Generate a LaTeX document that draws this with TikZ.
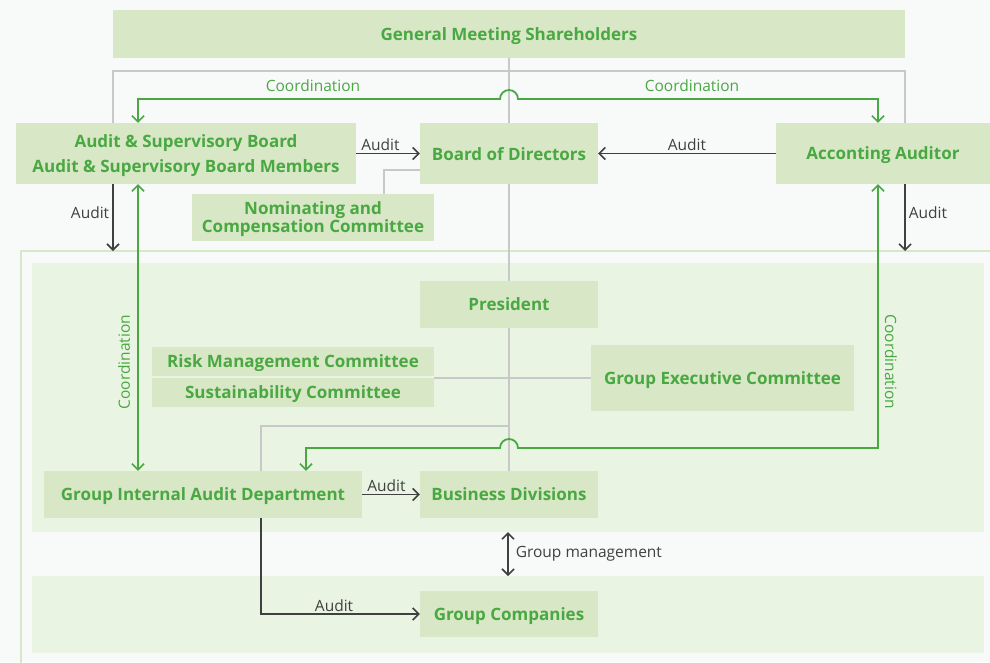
\documentclass[tikz,border=0pt]{standalone}
\usepackage{fontspec}
\setmainfont{Open Sans}
\usetikzlibrary{arrows.meta}
\definecolor{bgc}{HTML}{F8FAFA}
\definecolor{boxc}{HTML}{D8E7C5}
\definecolor{bandc}{HTML}{E9F4E3}
\definecolor{framec}{HTML}{D5E8C8}
\definecolor{grn}{HTML}{4AA843}
\definecolor{gline}{HTML}{C8C8C8}
\definecolor{dk}{HTML}{404040}
\tikzset{
  orgbox/.style={fill=boxc, text=grn, font=\fontsize{17}{24.5}\selectfont\bfseries, inner sep=0pt, align=center, anchor=center, text depth=0pt},
  grayline/.style={draw=gline, line width=2pt},
  greenline/.style={draw=grn, line width=1.8pt, line join=miter},
  dkarrow/.style={draw=dk, line width=1.6pt, -{Straight Barb[length=6pt,width=12pt,line width=1.6pt]}},
  dkdouble/.style={draw=dk, line width=1.6pt, {Straight Barb[length=6pt,width=12pt,line width=1.6pt]}-{Straight Barb[length=6pt,width=12pt,line width=1.6pt]}},
  grnboth/.style={greenline, {Straight Barb[length=6pt,width=12pt,line width=1.6pt]}-{Straight Barb[length=6pt,width=12pt,line width=1.6pt]}},
  lbl/.style={text=dk, font=\fontsize{15.5}{18}\selectfont, inner sep=1pt},
  glbl/.style={text=grn, font=\fontsize{15.5}{18}\selectfont, inner sep=1pt},
}
\begin{document}
\begin{tikzpicture}[x=1pt,y=1pt]
\useasboundingbox (0,0) rectangle (990,-662);
\fill[bgc] (0,0) rectangle (990,-662);
% frame and bands
\draw[framec, line width=2pt] (995,-251) -- (21,-251) -- (21,-667);
\fill[bandc] (32,-263) rectangle (984,-532);
\fill[bandc] (32,-576) rectangle (984,-653);

% nodes
\node[orgbox, minimum width=792, minimum height=48] (gms) at (509,-34) {General Meeting Shareholders};

% gray lines (behind boxes)
\coordinate (gtl) at (113,-71);
\coordinate (gtr) at (905,-71);
\draw[grayline] (gms.south) -- (509,-471);
\draw[grayline] (113,-123) -- (gtl) -- (gtr) -- (905,-123);

\node[orgbox, minimum width=340, minimum height=61] (asb) at (186,-153.5) {Audit \& Supervisory Board\\Audit \& Supervisory Board Members};
\node[orgbox, minimum width=178, minimum height=61] (bod) at (509,-153.5) {Board of Directors};
\node[orgbox, minimum width=214, minimum height=61] (aa) at (883,-153.5) {Acconting Auditor};
\node[orgbox, minimum width=242, minimum height=47, font=\fontsize{17}{18}\selectfont\bfseries] (ncc) at (313,-217.5) {Nominating and\\Compensation Committee};
\node[orgbox, minimum width=178, minimum height=47] (pres) at (509,-304.5) {President};
\node[orgbox, minimum width=282, minimum height=29] (rmc) at (293,-361.5) {Risk Management Committee};
\node[orgbox, minimum width=282, minimum height=29] (sc) at (293,-392.5) {Sustainability Committee};
\node[orgbox, minimum width=263, minimum height=66] (gec) at (722.5,-378) {Group Executive Committee};
\node[orgbox, minimum width=318, minimum height=47] (giad) at (203,-494.5) {Group Internal Audit Department};
\node[orgbox, minimum width=178, minimum height=47] (bd) at (509,-494.5) {Business Divisions};
\node[orgbox, minimum width=178, minimum height=46] (gc) at (509,-614) {Group Companies};

% gray connectors
\draw[grayline] (ncc.north -| 384,0) |- (bod.west |- 0,-170);
\draw[grayline] (rmc.east |- 0,-378) -- (gec.west |- 0,-378);
\coordinate (gj) at (509,-426);
\draw[grayline] (gj) -| (giad.north -| 261,0);

% green coordination lines
\draw[grnboth] (asb.north -| 138,0) -- (138,-99) -- (500,-99) arc (180:0:9) -- (878,-99) -- (aa.north -| 878,0);
\node[glbl] at (313,-86) {Coordination};
\node[glbl] at (692,-86) {Coordination};
\draw[grnboth] (asb.south -| 138,0) -- (giad.north -| 138,0);
\node[glbl, rotate=90] at (124,-362) {Coordination};
\draw[grnboth] (aa.south -| 878,0) -- (878,-448) -- (518,-448) arc (0:180:9) -- (306,-448) -- (giad.north -| 306,0);
\node[glbl, rotate=-90] at (891,-362) {Coordination};

% audit arrows
\draw[dkarrow] (asb.east) -- node[lbl, above, pos=0.38, yshift=1pt] {Audit} (bod.west);
\draw[dkarrow] (aa.west) -- node[lbl, above, yshift=1pt] {Audit} (bod.west -| bod.east);
\coordinate (asbaudit) at (113,-251);
\draw[dkarrow] (asb.south -| asbaudit) -- node[lbl, left, pos=0.42, xshift=-2pt] {Audit} (asbaudit);
\coordinate (aaaudit) at (905,-251);
\draw[dkarrow] (aa.south -| aaaudit) -- node[lbl, right, pos=0.42, xshift=2pt] {Audit} (aaaudit);
\draw[dkarrow] (giad.east) -- node[lbl, above, pos=0.42, yshift=1pt] {Audit} (bd.west);
\draw[dkarrow] (giad.south -| 261,0) |- node[lbl, above, pos=0.73, yshift=1pt] {Audit} (gc.west);
\coordinate (gmt) at (508,-532);
\coordinate (gmb) at (508,-576);
\draw[dkdouble] (gmt) -- node[lbl, right, xshift=6pt] {Group management} (gmb);
\end{tikzpicture}
\end{document}
